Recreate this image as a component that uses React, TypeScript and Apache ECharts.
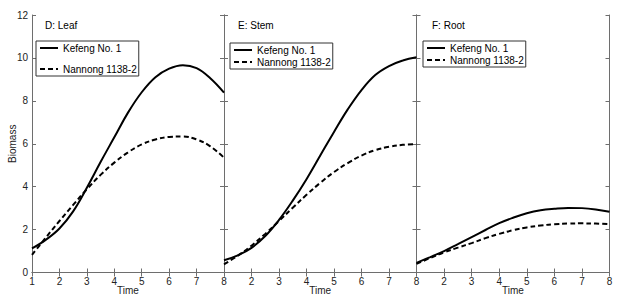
import React, { useEffect, useRef } from "react";
import * as echarts from "echarts";

const time = [1, 1.5, 2, 2.5, 3, 3.5, 4, 4.5, 5, 5.5, 6, 6.5, 7, 7.5, 8];
const leafKefeng = [1.12, 1.52, 2.05, 2.85, 3.95, 5.15, 6.3, 7.45, 8.4, 9.1, 9.5, 9.66, 9.52, 9.05, 8.38];
const leafNannong = [0.82, 1.62, 2.4, 3.15, 3.88, 4.55, 5.12, 5.6, 5.97, 6.2, 6.32, 6.34, 6.2, 5.88, 5.35];
const stemKefeng = [0.57, 0.8, 1.15, 1.7, 2.45, 3.35, 4.35, 5.45, 6.55, 7.6, 8.5, 9.2, 9.62, 9.88, 10.03];
const stemNannong = [0.38, 0.78, 1.25, 1.8, 2.4, 3.02, 3.62, 4.18, 4.68, 5.1, 5.45, 5.7, 5.86, 5.95, 5.98];
const rootKefeng = [0.45, 0.72, 1.0, 1.32, 1.65, 1.98, 2.3, 2.55, 2.76, 2.9, 2.97, 3.01, 3.0, 2.94, 2.83];
const rootNannong = [0.4, 0.68, 0.94, 1.16, 1.37, 1.6, 1.8, 1.97, 2.1, 2.19, 2.25, 2.28, 2.29, 2.28, 2.25];

const panelTitles = ["D: Leaf", "E: Stem", "F: Root"];
const seriesNames = ["Kefeng No. 1", "Nannong 1138-2"];
const panelData = [
  [leafKefeng, leafNannong],
  [stemKefeng, stemNannong],
  [rootKefeng, rootNannong],
];

const FONT = "Liberation Sans, Arial, Helvetica, sans-serif";
const AXIS_COLOR = "#6e6e6e";

export default function App() {
  const ref = useRef<HTMLDivElement>(null);
  useEffect(() => {
    if (!ref.current) return;
    const chart = echarts.init(ref.current, undefined, { renderer: "svg" });
    const grids = [
      { left: 32, top: 15, width: 192, height: 257.5 },
      { left: 224, top: 15, width: 192.5, height: 257.5 },
      { left: 416.5, top: 15, width: 193, height: 257.5 },
    ];
    const titlePos = [45, 238, 432];
    const legendPos = [
      { left: 36, top: 41, gap: 9 },
      { left: 230, top: 43, gap: 0 },
      { left: 423, top: 41, gap: 0 },
    ];
    const axisLine = { show: true, lineStyle: { color: AXIS_COLOR, width: 1 } };
    const tick = { show: true, inside: true, length: 4, lineStyle: { color: AXIS_COLOR } };
    const labelStyle = { fontSize: 10, color: "#222", fontFamily: FONT };

    const xAxes: any[] = [];
    const yAxes: any[] = [];
    for (let i = 0; i < 3; i++) {
      xAxes.push({
        gridIndex: i,
        type: "value",
        position: "bottom",
        min: 1,
        max: 8,
        interval: 1,
        axisLine,
        axisTick: tick,
        splitLine: { show: false },
        axisLabel: { ...labelStyle, margin: 4, showMinLabel: i === 0, showMaxLabel: true },
        name: "Time",
        nameLocation: "middle",
        nameGap: 13,
        nameMoveOverlap: false,
        nameTextStyle: { ...labelStyle },
      });
    }
    for (let i = 0; i < 3; i++) {
      xAxes.push({
        gridIndex: i,
        type: "value",
        position: "top",
        min: 1,
        max: 8,
        interval: 1,
        axisLine,
        axisTick: tick,
        splitLine: { show: false },
        axisLabel: { show: false },
      });
    }
    for (let i = 0; i < 3; i++) {
      yAxes.push({
        gridIndex: i,
        type: "value",
        position: "left",
        min: 0,
        max: 12,
        interval: 2,
        axisLine,
        axisTick: tick,
        splitLine: { show: false },
        axisLabel: { ...labelStyle, show: i === 0, margin: 4 },
        name: i === 0 ? "Biomass" : "",
        nameLocation: "middle",
        nameGap: 15,
        nameMoveOverlap: false,
        nameTextStyle: { ...labelStyle },
      });
    }
    for (let i = 0; i < 3; i++) {
      yAxes.push({
        gridIndex: i,
        type: "value",
        position: "right",
        min: 0,
        max: 12,
        interval: 2,
        axisLine,
        axisTick: tick,
        splitLine: { show: false },
        axisLabel: { show: false },
      });
    }

    const series: any[] = [];
    for (let i = 0; i < 3; i++) {
      panelData[i].forEach((vals, k) => {
        series.push({
          type: "line",
          name: seriesNames[k],
          xAxisIndex: i,
          yAxisIndex: i,
          data: time.map((t, j) => [t, vals[j]]),
          smooth: 0.4,
          symbol: "none",
          lineStyle: { color: "#000", width: 2, type: k === 0 ? "solid" : [5, 3] },
          itemStyle: { color: "#000" },
        });
      });
    }

    chart.setOption({
      animation: false,
      backgroundColor: "#fff",
      title: panelTitles.map((t, i) => ({
        text: t,
        left: titlePos[i],
        top: 20,
        padding: 0,
        textStyle: { fontSize: 10, fontWeight: "normal", color: "#000", fontFamily: FONT },
      })),
      legend: legendPos.map((p) => ({
        data: seriesNames,
        orient: "vertical",
        left: p.left,
        top: p.top,
        itemGap: p.gap,
        itemWidth: 18,
        itemHeight: 8,
        padding: [1, 2, 1, 3],
        borderColor: "#333",
        borderWidth: 1,
        backgroundColor: "#fff",
        selectedMode: false,
        itemStyle: { opacity: 0 },
        textStyle: { fontSize: 10, color: "#000", fontFamily: FONT, lineHeight: 12 },
      })),
      grid: grids,
      xAxis: xAxes,
      yAxis: yAxes,
      series,
    });
    return () => chart.dispose();
  }, []);
  return (
    <div
      ref={ref}
      style={{ position: "fixed", left: 0, top: 0, width: 641, height: 303, background: "#fff" }}
    />
  );
}
